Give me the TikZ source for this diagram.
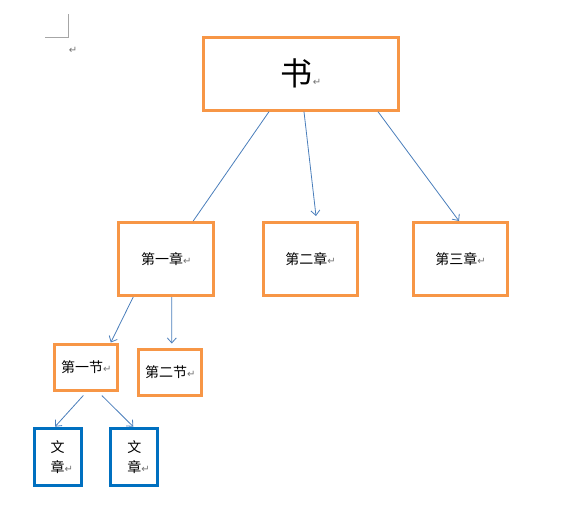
\documentclass[tikz,border=0pt]{standalone}
\usepackage{fontspec}
\setmainfont{Noto Sans CJK SC}
\newfontfamily\symfont{DejaVu Sans}
\usetikzlibrary{arrows.meta}
\definecolor{boxorange}{HTML}{F79646}
\definecolor{boxblue}{HTML}{0070C0}
\definecolor{linkblue}{HTML}{4A7EBB}
\newcommand{\retmark}{{\symfont\fontsize{10}{10}\selectfont\color{black!55}↵}}

\begin{document}
\begin{tikzpicture}[x=1pt,y=1pt]
        \tikzstyle{every node}+=[inner sep=0pt, font=\fontsize{14}{20}\selectfont]
        \tikzstyle{obox}=[draw=boxorange, line width=3pt]
        \tikzstyle{bbox}=[draw=boxblue, line width=3pt, align=center, minimum width=47pt, minimum height=57pt]
        \tikzstyle{link}=[draw=linkblue, line width=0.8pt]
        \tikzstyle{arr}=[link, -{Straight Barb[length=5pt,width=9pt]}]
        \useasboundingbox (0,0) rectangle (574,-514);
        \draw [gray!70] (45,-37) -- (68,-37) -- (68,-14);
        \node (mark) at (73,-50) {\retmark};
        \node [obox, minimum width=195pt, minimum height=73pt, font=\fontsize{32}{36}\selectfont] (book) at (301,-73.7) {书\retmark};
        \node [obox, minimum width=95pt, minimum height=73pt] (ch1) at (166.2,-259) {第一章\retmark};
        \node [obox, minimum width=94pt, minimum height=73pt] (ch2) at (310.5,-259) {第二章\retmark};
        \node [obox, minimum width=94pt, minimum height=73pt] (ch3) at (460.5,-259) {第三章\retmark};
        \node [obox, minimum width=63pt, minimum height=46pt] (sec1) at (86.3,-367) {第一节\retmark};
        \node [obox, minimum width=63pt, minimum height=46pt] (sec2) at (170.3,-372) {第二节\retmark};
        \node [bbox] (art1) at (57.5,-456.7) {文\\章\rlap{\retmark}};
        \node [bbox] (art2) at (134.3,-456.7) {文\\章\rlap{\retmark}};
        \draw [link] ([xshift=-32pt]book.south) -- ([xshift=27pt]ch1.north);
        \draw [arr] ([xshift=3pt]book.south) -- ([xshift=5.5pt,yshift=5pt]ch2.north);
        \draw [arr] ([xshift=77pt]book.south) -- ([xshift=-1.5pt]ch3.north);
        \draw [arr] ([xshift=-33pt]ch1.south) -- ([xshift=24.5pt]sec1.north);
        \draw [arr] ([xshift=5.5pt]ch1.south) -- ([xshift=1.5pt,yshift=4pt]sec2.north);
        \draw [arr] ([xshift=-3pt,yshift=-4pt]sec1.south) -- ([xshift=-2.5pt]art1.north);
        \draw [arr] ([xshift=15.5pt,yshift=-4pt]sec1.south) -- ([xshift=-1pt]art2.north);
\end{tikzpicture}
\end{document}
